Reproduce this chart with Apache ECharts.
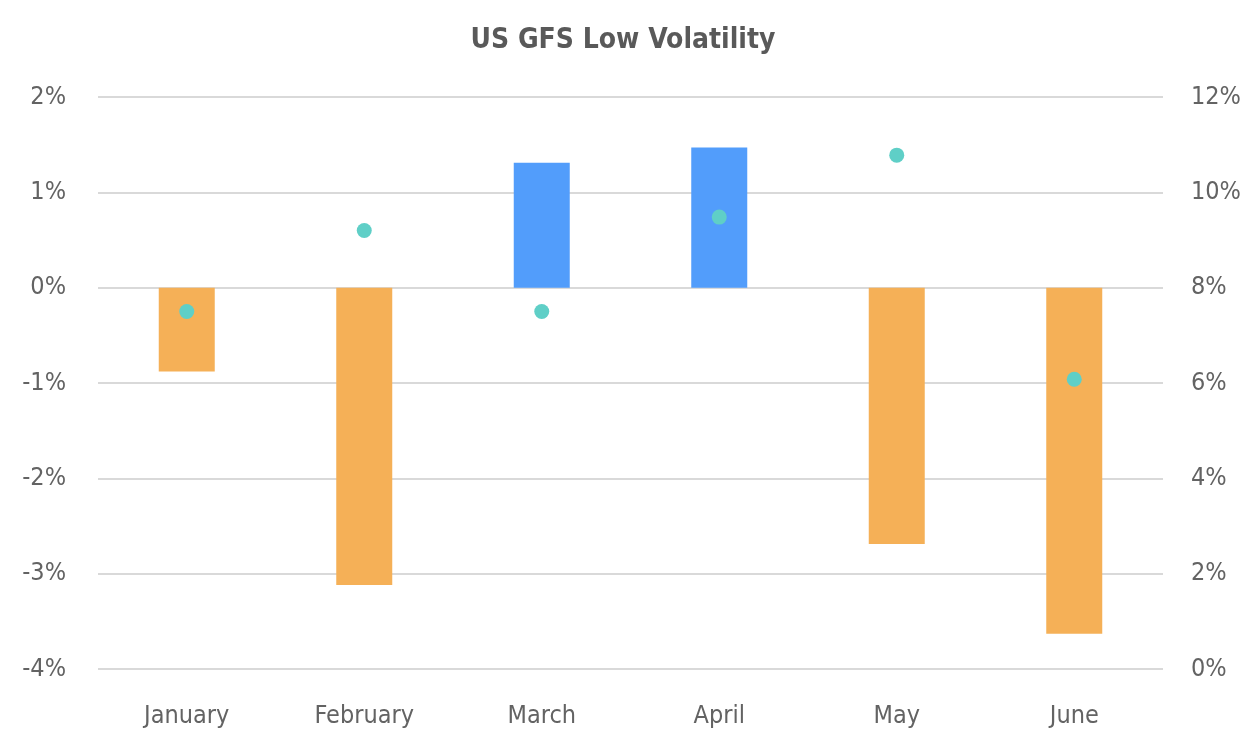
<!DOCTYPE html>
<html><head><meta charset="utf-8">
<script src="https://cdn.jsdelivr.net/npm/echarts@6/dist/echarts.min.js"></script>
<style>html,body{margin:0;padding:0;background:#fff}#c{width:1246px;height:729px}</style>
</head><body><div id="c"></div>
<script>
const categories = ['January','February','March','April','May','June'];
const returns = [-0.88, -3.12, 1.31, 1.47, -2.69, -3.63];
const volatility = [7.5, 9.2, 7.5, 9.48, 10.78, 6.08];
const leftTicks = [-4, 2, 1];   // min, max, interval
const rightTicks = [0, 12, 2];

const FONT = '"DejaVu Sans Condensed", "Liberation Sans Narrow", sans-serif';
const chart = echarts.init(document.getElementById('c'), null, {renderer:'canvas'});
chart.setOption({
  animation: false,
  title: { text: 'US GFS Low Volatility', left: 'center', top: 22,
    textStyle: { fontFamily: FONT, fontSize: 28, fontWeight: 'bold', color: '#595959' } },
  grid: { left: 98, right: 83, top: 97, bottom: 60, outerBoundsMode: 'none', containLabel: false },
  xAxis: { type: 'category', data: categories,
    axisLine: { show: false }, axisTick: { show: false },
    axisLabel: { fontFamily: FONT, fontSize: 25, color: '#636363', margin: 35 } },
  yAxis: [
    { type: 'value', min: leftTicks[0], max: leftTicks[1], interval: leftTicks[2],
      axisLabel: { formatter: '{value}%', fontFamily: FONT, fontSize: 25, color: '#636363', margin: 32 },
      splitLine: { lineStyle: { color: '#d9d9d9', width: 2 } },
      axisLine: { show: false }, axisTick: { show: false } },
    { type: 'value', min: rightTicks[0], max: rightTicks[1], interval: rightTicks[2], position: 'right',
      axisLabel: { formatter: '{value}%', fontFamily: FONT, fontSize: 25, color: '#636363', margin: 28 },
      splitLine: { show: false }, axisLine: { show: false }, axisTick: { show: false } }
  ],
  series: [
    { type: 'bar', yAxisIndex: 0, barWidth: 56,
      data: returns.map(v => ({ value: v, itemStyle: { color: v < 0 ? '#F5B057' : '#529DFB' } })) },
    { type: 'scatter', yAxisIndex: 1, symbolSize: 15, itemStyle: { color: '#5FCFC7', opacity: 1 }, data: volatility, z: 5 }
  ]
});
</script></body></html>
